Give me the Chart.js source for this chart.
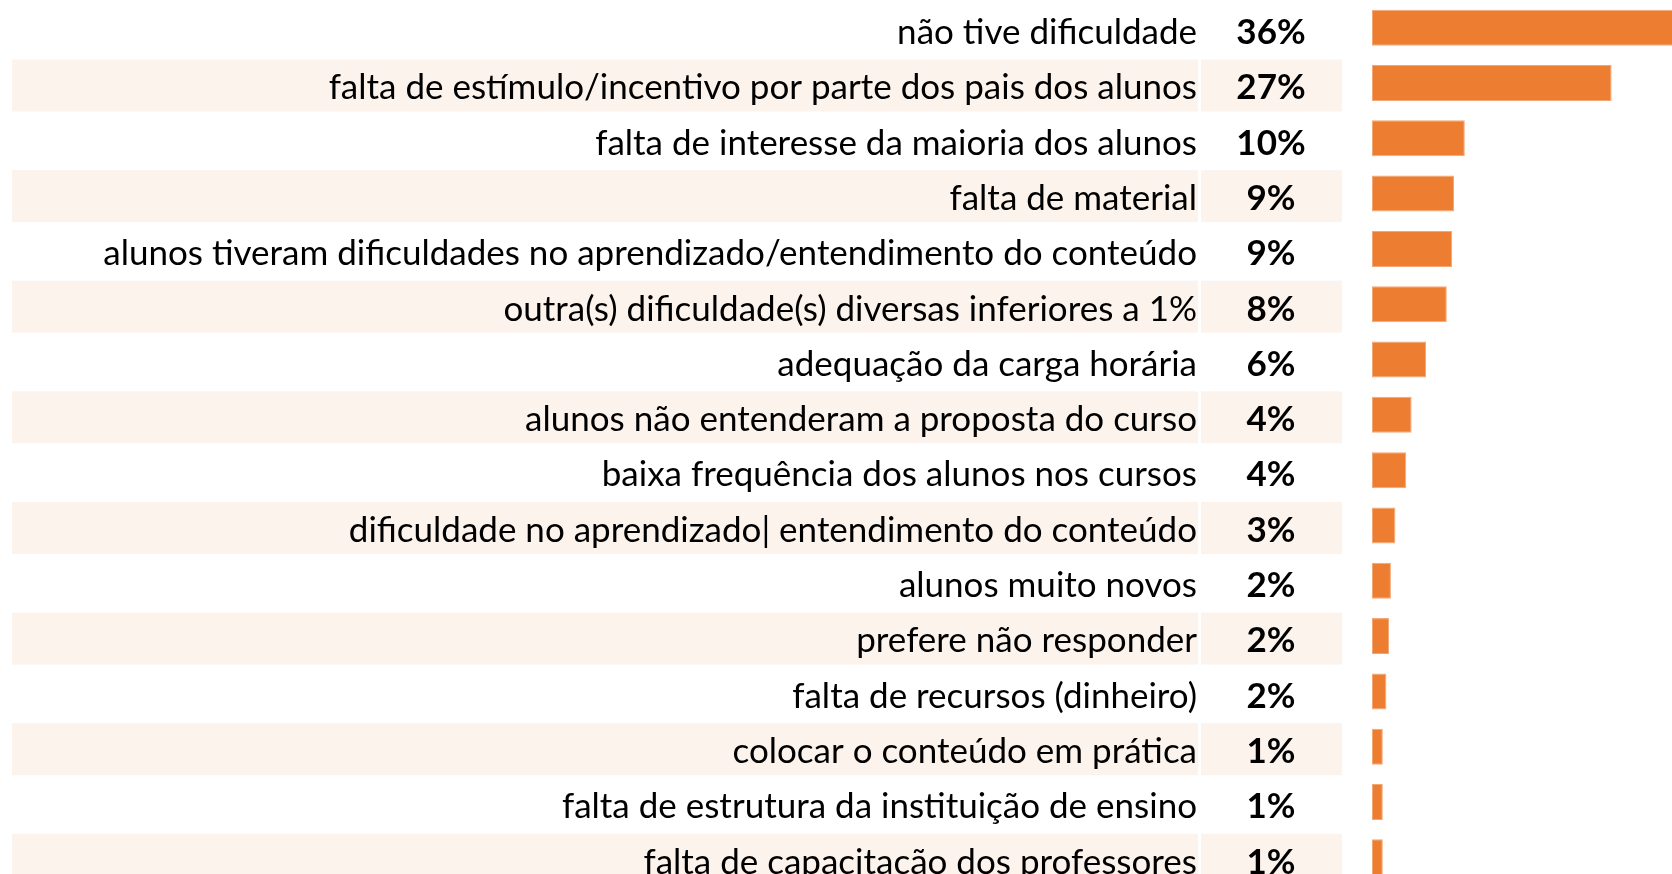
<!DOCTYPE html>
<html>
<head>
<meta charset="utf-8">
<script src="https://cdn.jsdelivr.net/npm/chart.js@4"></script>
<style>
  html, body { margin: 0; padding: 0; background: #fff; overflow: hidden; }
  #wrap { width: 1672px; height: 885px; position: relative; }
</style>
</head>
<body>
<div id="wrap"><canvas id="myChart"></canvas></div>
<script>
// categories, top to bottom
const categories = [
    "não tive dificuldade",
    "falta de estímulo/incentivo por parte dos pais dos alunos",
    "falta de interesse da maioria dos alunos",
    "falta de material",
    "alunos tiveram dificuldades no aprendizado/entendimento do conteúdo",
    "outra(s) dificuldade(s) diversas inferiores a 1%",
    "adequação da carga horária",
    "alunos não entenderam a proposta do curso",
    "baixa frequência dos alunos nos cursos",
    "dificuldade no aprendizado| entendimento do conteúdo",
    "alunos muito novos",
    "prefere não responder",
    "falta de recursos (dinheiro)",
    "colocar o conteúdo em prática",
    "falta de estrutura da instituição de ensino",
    "falta de capacitação dos professores"
];

// bar values (%)
const values = [36, 26.6, 10.3, 9.1, 8.9, 8.3, 6.0, 4.4, 3.8, 2.6, 2.1, 1.9, 1.6, 1.2, 1.2, 1.2];

// printed value labels
const valueLabels = ["36%", "27%", "10%", "9%", "9%", "8%", "6%", "4%", "4%", "3%", "2%", "2%", "2%", "1%", "1%", "1%"];

const FONT = "Lato";
const FONT_SIZE = 35;
const TEXT_SHIFT = 5; // text sits a little below bar centre

// zebra bands (under everything) + value column
const rowsPlugin = {
    id: "rows",
    beforeDraw(chart) {
        const ctx = chart.ctx;
        const y = chart.scales.y;
        ctx.save();
        ctx.fillStyle = "#FCF3ED";
        categories.forEach((c, i) => {
            if (i % 2 === 1) {
                const cy = y.getPixelForValue(i);
                ctx.fillRect(12, cy - 23.5, 1186, 52);
                ctx.fillRect(1201, cy - 23.5, 141, 52);
            }
        });
        ctx.restore();
    },
    afterDatasetsDraw(chart) {
        const ctx = chart.ctx;
        const y = chart.scales.y;
        ctx.save();
        ctx.fillStyle = "#000";
        ctx.font = "bold " + FONT_SIZE + "px " + FONT;
        ctx.textAlign = "center";
        ctx.textBaseline = "middle";
        valueLabels.forEach((v, i) => {
            ctx.fillText(v, 1271, y.getPixelForValue(i) + TEXT_SHIFT);
        });
        ctx.restore();
    }
};

const ctx = document.getElementById("myChart").getContext("2d");
const myChart = new Chart(ctx, {
    type: "bar",
    data: {
        labels: categories,
        datasets: [
            {
                data: values,
                backgroundColor: "#ED7D31",
                borderColor: "#F3A775",
                borderWidth: 1,
                borderSkipped: false,
                categoryPercentage: 0.65,
                barPercentage: 1.0,
            },
        ],
    },
    options: {
        indexAxis: "y",
        responsive: true,
        maintainAspectRatio: false,
        animation: false,
        layout: { padding: 0 },
        plugins: {
            legend: { display: false },
            tooltip: { enabled: false },
        },
        scales: {
            x: {
                display: false,
                min: 0,
                max: 33.3,
            },
            y: {
                // invisible tick marks make the gap between labels and bars
                grid: {
                    display: true,
                    drawOnChartArea: false,
                    drawTicks: true,
                    tickLength: 175,
                    color: "rgba(0,0,0,0)",
                },
                border: { display: false },
                afterFit(scale) {
                    scale.width = 1372;
                    scale.paddingTop = 0;
                    scale.paddingBottom = 0;
                },
                ticks: {
                    padding: 0,
                    labelOffset: TEXT_SHIFT,
                    autoSkip: false,
                    color: "#000",
                    font: { family: FONT, size: FONT_SIZE },
                },
            },
        },
    },
    plugins: [rowsPlugin],
});
</script>
</body>
</html>
